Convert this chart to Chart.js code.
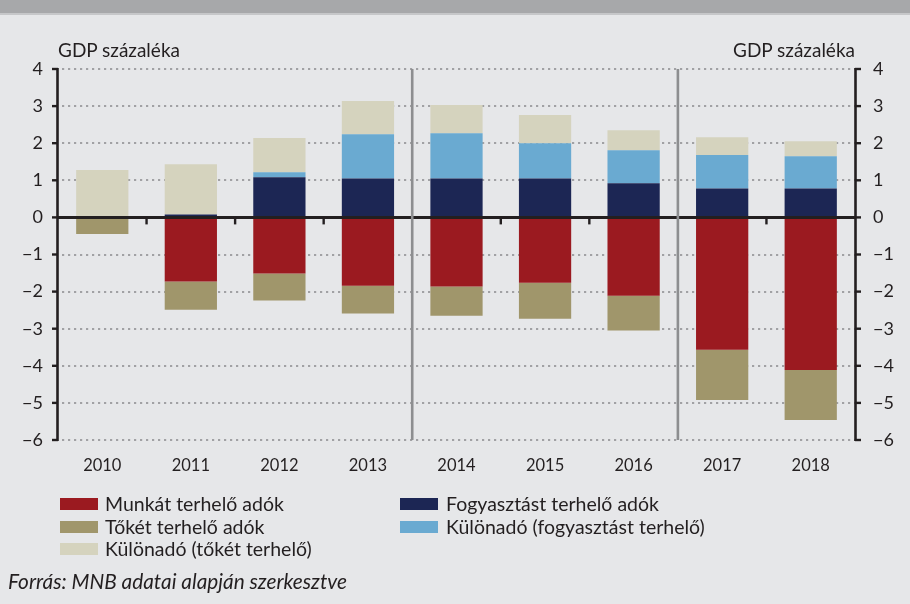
<!DOCTYPE html>
<html><head><meta charset="utf-8">
<script src="https://cdn.jsdelivr.net/npm/chart.js@4.4.1/dist/chart.umd.min.js"></script>
<style>
body{margin:0;background:#e6e7e9;width:910px;height:604px;overflow:hidden;position:relative;font-family:Lato,sans-serif;color:#231f20}
#band{position:absolute;left:0;top:0;width:910px;height:13px;background:#a7a8aa;border-bottom:2px solid #c6c7c9}
#c{position:absolute;left:0;top:0}
.t{position:absolute;white-space:nowrap;font-size:19.5px;line-height:20px}
.sw{position:absolute;width:38px;height:12px}
</style></head><body>
<div id="band"></div>
<canvas id="c" width="910" height="604"></canvas>
<div class="t" style="left:58px;top:40px;font-size:19px">GDP százaléka</div>
<div class="t" style="right:55px;top:40px;font-size:19px">GDP százaléka</div>
<div id="legend"></div>
<div class="t" style="left:8px;top:571px;font-style:italic;font-size:20.8px">Forrás: MNB adatai alapján szerkesztve</div>
<script>
const categories = ['2010','2011','2012','2013','2014','2015','2016','2017','2018'];
const munkat     = [0, -1.73, -1.51, -1.84, -1.86, -1.76, -2.11, -3.57, -4.11];
const fogyasztas = [0, 0.08, 1.08, 1.05, 1.05, 1.05, 0.92, 0.78, 0.78];
const toket      = [-0.45, -0.76, -0.73, -0.75, -0.79, -0.97, -0.94, -1.35, -1.35];
const kulonFogy  = [0, 0, 0.14, 1.19, 1.22, 0.95, 0.89, 0.90, 0.87];
const kulonToket = [1.28, 1.35, 0.92, 0.90, 0.76, 0.76, 0.54, 0.48, 0.40];
const yTicks = [4,3,2,1,0,-1,-2,-3,-4,-5,-6];
const separatorsAfter = [3, 6];
const seriesNames = ['Munkát terhelő adók','Fogyasztást terhelő adók','Tőkét terhelő adók','Különadó (fogyasztást terhelő)','Különadó (tőkét terhelő)'];
const colors = ['#9b1a20','#1c2654','#a0966b','#6aaad1','#d5d3be'];

const seriesData = [munkat, fogyasztas, toket, kulonFogy, kulonToket];
const datasets = seriesData.map((d,i)=>({label:seriesNames[i], data:d, backgroundColor:colors[i], borderWidth:0, barPercentage:0.59, categoryPercentage:1}));

// legend
const legendPos = [[60,105,498],[400,446,498],[60,105,521],[400,446,521],[60,105,543]];
const order = [0,1,2,3,4];
const lg = document.getElementById('legend');
order.forEach((k,i)=>{
  const [sx,tx,sy] = legendPos[i];
  const s = document.createElement('div'); s.className='sw';
  s.style.left=sx+'px'; s.style.top=sy+'px'; s.style.background=colors[k]; lg.appendChild(s);
  const t = document.createElement('div'); t.className='t';
  t.style.left=tx+'px'; t.style.top=(sy-4)+'px'; t.textContent=seriesNames[k]; lg.appendChild(t);
});

const fmt = v => v<0 ? '\u2212'+Math.abs(v) : String(v);
const deco = {
  id:'deco',
  beforeDatasetsDraw(chart){
    const {ctx, chartArea:a, scales:{y}} = chart;
    ctx.save();
    ctx.strokeStyle='#8a8b8d'; ctx.lineWidth=1.6; ctx.setLineDash([2.2,3.8]);
    yTicks.forEach(t=>{ if(t===0) return;
      const py=Math.round(y.getPixelForValue(t));
      ctx.beginPath(); ctx.moveTo(a.left+4,py); ctx.lineTo(a.right,py); ctx.stroke();
    });
    ctx.restore();
  },
  afterDatasetsDraw(chart){
    const {ctx, chartArea:a, scales:{x,y}} = chart;
    const y0 = y.getPixelForValue(0);
    ctx.save();
    ctx.strokeStyle='#231f20'; ctx.lineWidth=3;
    ctx.beginPath(); ctx.moveTo(a.left,y0); ctx.lineTo(a.right,y0); ctx.stroke();
    // axes
    ctx.lineWidth=2.6;
    ctx.beginPath(); ctx.moveTo(a.left-0.5,a.top-1); ctx.lineTo(a.left-0.5,a.bottom+1); ctx.stroke();
    ctx.beginPath(); ctx.moveTo(a.right+0.5,a.top-1); ctx.lineTo(a.right+0.5,a.bottom+1); ctx.stroke();
    ctx.lineWidth=2.4;
    yTicks.forEach(t=>{
      const py=y.getPixelForValue(t);
      ctx.beginPath(); ctx.moveTo(a.left-6,py); ctx.lineTo(a.left,py); ctx.stroke();
      ctx.beginPath(); ctx.moveTo(a.right,py); ctx.lineTo(a.right+6,py); ctx.stroke();
    });
    // category tick marks on zero line
    for(let i=0;i<categories.length-1;i++){
      if(separatorsAfter.includes(i)) continue;
      const px=(x.getPixelForValue(i)+x.getPixelForValue(i+1))/2;
      ctx.beginPath(); ctx.moveTo(px,y0); ctx.lineTo(px,y0+7); ctx.stroke();
    }
    // separators
    ctx.strokeStyle='#8d8e90'; ctx.lineWidth=2.6;
    separatorsAfter.forEach(i=>{
      const px=(x.getPixelForValue(i)+x.getPixelForValue(i+1))/2;
      ctx.beginPath(); ctx.moveTo(px,a.top); ctx.lineTo(px,a.bottom); ctx.stroke();
    });
    ctx.restore();
  }
};

const tickFont = {family:'Lato', size:18};
new Chart(document.getElementById('c'), {
  type:'bar',
  data:{labels:categories, datasets},
  options:{
    responsive:false, animation:false,
    layout:{padding:{top:69,left:0,right:0,bottom:0}},
    plugins:{legend:{display:false}, tooltip:{enabled:false}},
    scales:{
      x:{stacked:true, grid:{display:false, drawTicks:false}, border:{display:false},
         ticks:{font:{family:'Lato', size:16.5}, color:'#231f20', padding:16, maxRotation:0},
         afterFit(s){ s.height=164; }},
      y:{stacked:true, position:'left', min:-6, max:4,
         grid:{display:false, drawTicks:false}, border:{display:false},
         ticks:{stepSize:1, font:tickFont, color:'#231f20', padding:15, callback:fmt},
         afterFit(s){ s.width=58; }},
      y2:{position:'right', min:-6, max:4,
         grid:{display:false, drawTicks:false}, border:{display:false},
         ticks:{stepSize:1, font:tickFont, color:'#231f20', padding:18, callback:fmt},
         afterFit(s){ s.width=55; }}
    }
  },
  plugins:[deco]
});
</script>
</body></html>
